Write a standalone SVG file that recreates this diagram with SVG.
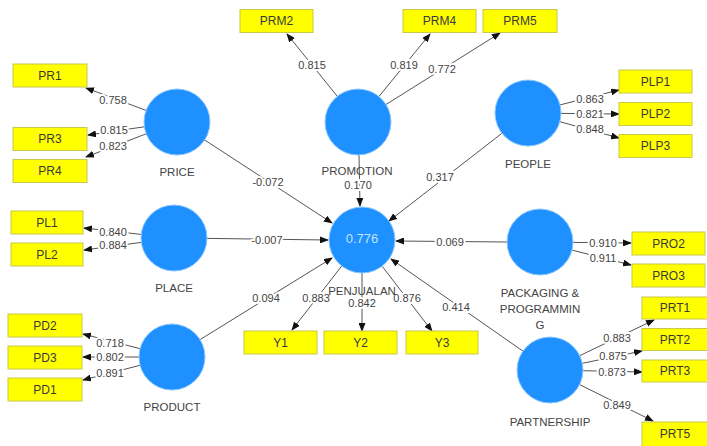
<svg xmlns="http://www.w3.org/2000/svg" width="707" height="446" viewBox="0 0 707 446">
<style>
.bg{fill:#ffffff}
.lv{fill:#1e90ff;stroke:#8cc8ff;stroke-width:1}
.ind{fill:#ffff00;stroke:#c8c84a;stroke-width:1}
.it{font-family:"Liberation Sans",Arial,sans-serif;font-size:12px;fill:#3a3a3a;text-anchor:middle;dominant-baseline:central}
.nl{font-family:"Liberation Sans",Arial,sans-serif;font-size:11.5px;fill:#444;text-anchor:middle;dominant-baseline:central}
.r2{font-family:"Liberation Sans",Arial,sans-serif;font-size:13px;fill:#c4e3ff;text-anchor:middle;dominant-baseline:central}
.c{stroke:#555;stroke-width:1;fill:none;marker-end:url(#ah)}
.w{font-family:"Liberation Sans",Arial,sans-serif;font-size:11px;fill:#444;text-anchor:middle;dominant-baseline:central;stroke:#fff;stroke-width:4px;paint-order:stroke;stroke-linejoin:round}
</style>
<defs>
<marker id="ah" markerUnits="userSpaceOnUse" markerWidth="9" markerHeight="7" refX="8" refY="3.5" orient="auto">
<path d="M0,0 L9,3.5 L0,7 z" fill="#111"/>
</marker>
</defs>
<rect class="bg" x="0" y="0" width="707" height="446"/>
<g id="connectors">
<line class="c" x1="146.1" y1="110.4" x2="86" y2="88"/>
<line class="c" x1="144.3" y1="126.8" x2="88" y2="135"/>
<line class="c" x1="146.2" y1="133.8" x2="86" y2="157"/>
<line class="c" x1="204.7" y1="140" x2="332" y2="223"/>
<line class="c" x1="337.3" y1="96.3" x2="287" y2="34"/>
<line class="c" x1="378.9" y1="96.5" x2="430" y2="34"/>
<line class="c" x1="386" y1="104.5" x2="500" y2="33"/>
<line class="c" x1="359" y1="155" x2="360" y2="206"/>
<line class="c" x1="560" y1="104.9" x2="619" y2="90"/>
<line class="c" x1="561" y1="113.4" x2="619" y2="114"/>
<line class="c" x1="559.8" y1="121.7" x2="619" y2="138"/>
<line class="c" x1="501.9" y1="133.3" x2="389" y2="221"/>
<line class="c" x1="141.2" y1="234.4" x2="84" y2="228"/>
<line class="c" x1="141.3" y1="242.4" x2="84" y2="250"/>
<line class="c" x1="207" y1="238.4" x2="328" y2="240"/>
<line class="c" x1="140.1" y1="348.7" x2="83" y2="334"/>
<line class="c" x1="139" y1="357" x2="83" y2="357"/>
<line class="c" x1="140.1" y1="365.3" x2="83" y2="380"/>
<line class="c" x1="200.1" y1="339.6" x2="332" y2="258"/>
<line class="c" x1="341.7" y1="266" x2="292" y2="330"/>
<line class="c" x1="362" y1="273" x2="362" y2="331"/>
<line class="c" x1="382.1" y1="266.2" x2="432" y2="331"/>
<line class="c" x1="507" y1="242" x2="396" y2="241"/>
<line class="c" x1="573" y1="242.4" x2="631" y2="243"/>
<line class="c" x1="572" y1="250.1" x2="631" y2="265"/>
<line class="c" x1="522.9" y1="351.1" x2="391" y2="259"/>
<line class="c" x1="579.7" y1="355.7" x2="654" y2="320"/>
<line class="c" x1="582.3" y1="363.3" x2="642" y2="351"/>
<line class="c" x1="583" y1="370.7" x2="642" y2="372"/>
<line class="c" x1="579.6" y1="384.6" x2="653" y2="421"/>
<text class="w" x="113" y="100">0.758</text>
<text class="w" x="114" y="130">0.815</text>
<text class="w" x="113" y="146">0.823</text>
<text class="w" x="268" y="182">-0.072</text>
<text class="w" x="312" y="65">0.815</text>
<text class="w" x="404" y="65">0.819</text>
<text class="w" x="442" y="69">0.772</text>
<text class="w" x="358" y="185">0.170</text>
<text class="w" x="590" y="99">0.863</text>
<text class="w" x="590" y="114">0.821</text>
<text class="w" x="590" y="129">0.848</text>
<text class="w" x="440" y="177">0.317</text>
<text class="w" x="113" y="232">0.840</text>
<text class="w" x="113" y="245">0.884</text>
<text class="w" x="267" y="240">-0.007</text>
<text class="w" x="110" y="343">0.718</text>
<text class="w" x="110" y="357">0.802</text>
<text class="w" x="110" y="373">0.891</text>
<text class="w" x="266" y="298">0.094</text>
<text class="w" x="316" y="298">0.883</text>
<text class="w" x="362" y="303">0.842</text>
<text class="w" x="407" y="298">0.876</text>
<text class="w" x="450" y="242">0.069</text>
<text class="w" x="456" y="307">0.414</text>
<text class="w" x="603" y="243">0.910</text>
<text class="w" x="603" y="258">0.911</text>
<text class="w" x="617" y="338">0.883</text>
<text class="w" x="613" y="356">0.875</text>
<text class="w" x="612" y="372">0.873</text>
<text class="w" x="617" y="405">0.849</text>
</g>
<g id="PRICE"><circle class="lv" cx="177" cy="122" r="33"/><text class="nl" x="177" y="172">PRICE</text></g>
<g id="PROMOTION"><circle class="lv" cx="358" cy="122" r="33"/><text class="nl" x="357" y="171">PROMOTION</text></g>
<g id="PEOPLE"><circle class="lv" cx="528" cy="113" r="33"/><text class="nl" x="528" y="164">PEOPLE</text></g>
<g id="PLACE"><circle class="lv" cx="174" cy="238" r="33"/><text class="nl" x="174" y="288">PLACE</text></g>
<g id="PRODUCT"><circle class="lv" cx="172" cy="357" r="33"/><text class="nl" x="172" y="407">PRODUCT</text></g>
<g id="PENJUALAN"><circle class="lv" cx="362" cy="240" r="33"/><text class="r2" x="362" y="238">0.776</text><text class="nl" x="362" y="291">PENJUALAN</text></g>
<g id="PACKAGING"><circle class="lv" cx="540" cy="242" r="33"/><text class="nl" x="540" y="293">PACKAGING &amp;</text><text class="nl" x="540" y="309">PROGRAMMIN</text><text class="nl" x="540" y="325">G</text></g>
<g id="PARTNERSHIP"><circle class="lv" cx="550" cy="370" r="33"/><text class="nl" x="550" y="422">PARTNERSHIP</text></g>
<g id="PR1"><rect class="ind" x="13" y="64" width="74" height="23"/><text class="it" x="50" y="75.5">PR1</text></g>
<g id="PR3"><rect class="ind" x="13" y="127.5" width="74" height="23"/><text class="it" x="50" y="139">PR3</text></g>
<g id="PR4"><rect class="ind" x="13" y="159.5" width="74" height="23"/><text class="it" x="50" y="171">PR4</text></g>
<g id="PRM2"><rect class="ind" x="240" y="9.5" width="73" height="23"/><text class="it" x="276.5" y="21">PRM2</text></g>
<g id="PRM4"><rect class="ind" x="403" y="9.5" width="73" height="23"/><text class="it" x="439.5" y="21">PRM4</text></g>
<g id="PRM5"><rect class="ind" x="483" y="9.5" width="74" height="23"/><text class="it" x="520" y="21">PRM5</text></g>
<g id="PLP1"><rect class="ind" x="619" y="70" width="73" height="23"/><text class="it" x="655.5" y="81.5">PLP1</text></g>
<g id="PLP2"><rect class="ind" x="619" y="102.5" width="73" height="23"/><text class="it" x="655.5" y="114">PLP2</text></g>
<g id="PLP3"><rect class="ind" x="619" y="134.5" width="73" height="23"/><text class="it" x="655.5" y="146">PLP3</text></g>
<g id="PL1"><rect class="ind" x="11" y="211" width="72" height="23"/><text class="it" x="47" y="222.5">PL1</text></g>
<g id="PL2"><rect class="ind" x="11" y="243" width="72" height="23"/><text class="it" x="47" y="254.5">PL2</text></g>
<g id="PD2"><rect class="ind" x="8" y="314" width="74" height="23"/><text class="it" x="45" y="325.5">PD2</text></g>
<g id="PD3"><rect class="ind" x="8" y="346" width="74" height="23"/><text class="it" x="45" y="357.5">PD3</text></g>
<g id="PD1"><rect class="ind" x="8" y="378" width="74" height="23"/><text class="it" x="45" y="389.5">PD1</text></g>
<g id="Y1"><rect class="ind" x="244" y="331" width="73" height="23"/><text class="it" x="280.5" y="342.5">Y1</text></g>
<g id="Y2"><rect class="ind" x="324" y="331" width="73" height="23"/><text class="it" x="360.5" y="342.5">Y2</text></g>
<g id="Y3"><rect class="ind" x="406" y="331" width="72" height="23"/><text class="it" x="442" y="342.5">Y3</text></g>
<g id="PRO2"><rect class="ind" x="632" y="232" width="73" height="23"/><text class="it" x="668.5" y="243.5">PRO2</text></g>
<g id="PRO3"><rect class="ind" x="632" y="264" width="73" height="23"/><text class="it" x="668.5" y="275.5">PRO3</text></g>
<g id="PRT1"><rect class="ind" x="642" y="297" width="66" height="22"/><text class="it" x="675" y="308">PRT1</text></g>
<g id="PRT2"><rect class="ind" x="642" y="328.5" width="66" height="22"/><text class="it" x="675" y="339.5">PRT2</text></g>
<g id="PRT3"><rect class="ind" x="642" y="360" width="66" height="22"/><text class="it" x="675" y="371">PRT3</text></g>
<g id="PRT5"><rect class="ind" x="642" y="422" width="66" height="26"/><text class="it" x="675" y="434">PRT5</text></g>
</svg>
